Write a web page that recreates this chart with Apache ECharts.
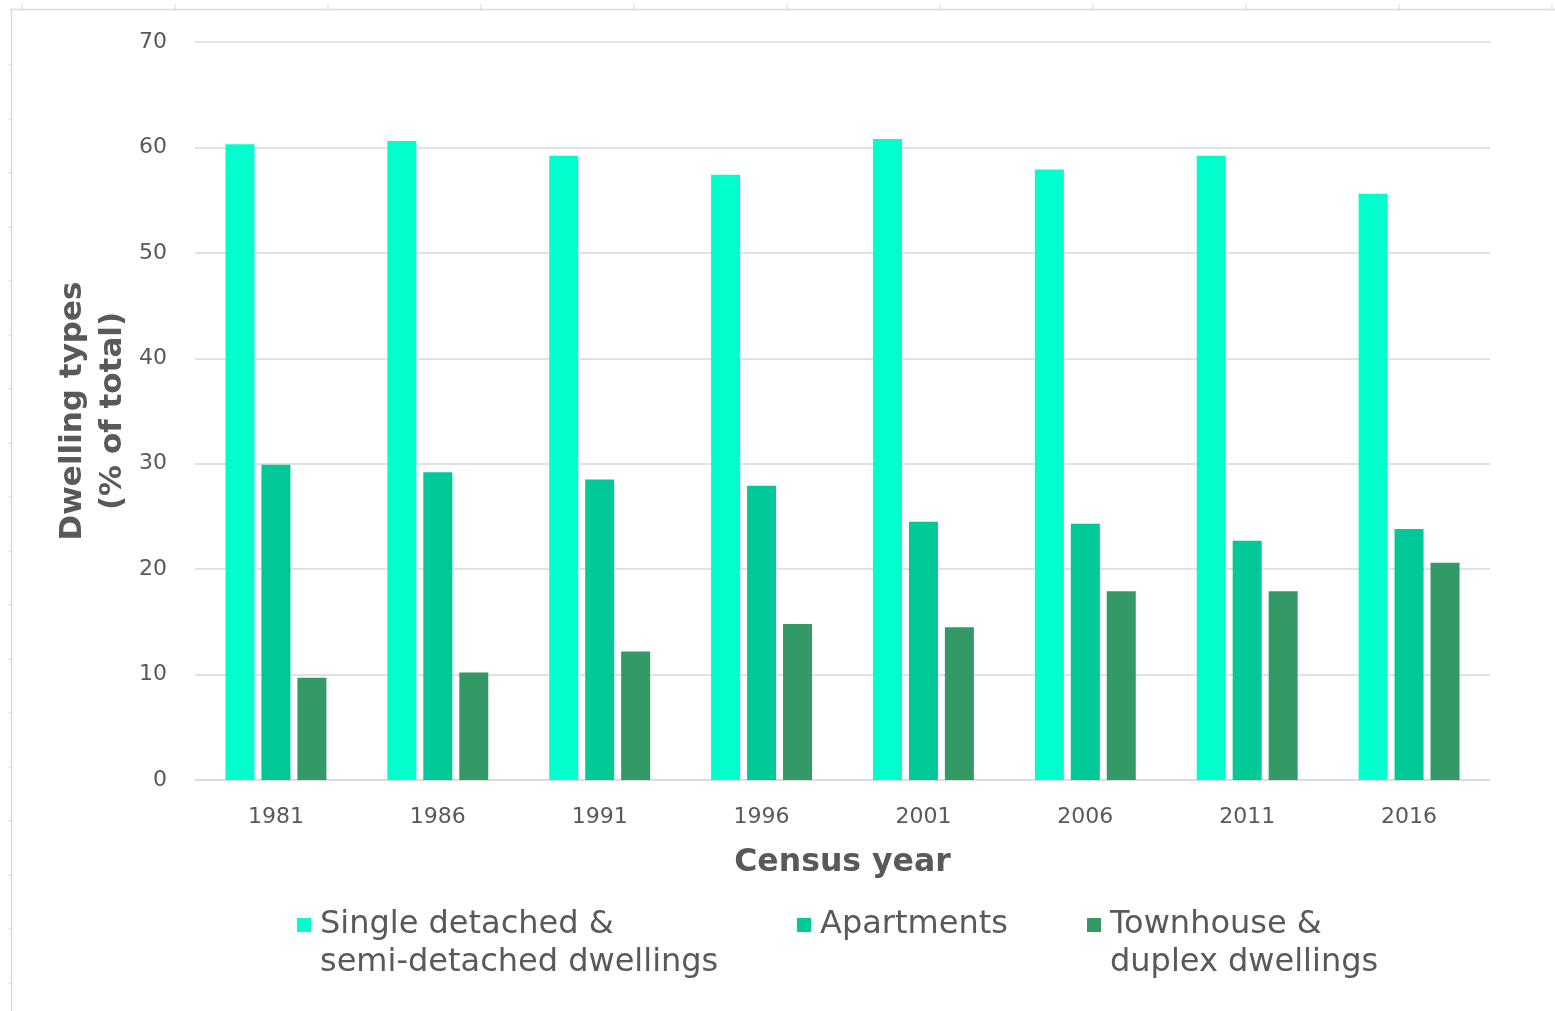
<!DOCTYPE html>
<html>
<head>
<meta charset="utf-8">
<script src="https://cdn.jsdelivr.net/npm/echarts@6/dist/echarts.min.js"></script>
<style>
html,body{margin:0;padding:0;background:#fff;}
#chart{width:1555px;height:1011px;}
</style>
</head>
<body>
<div id="chart"></div>
<script>
var years = ['1981','1986','1991','1996','2001','2006','2011','2016'];
var seriesNames = ['Single detached &\nsemi-detached dwellings','Apartments','Townhouse &\nduplex dwellings'];
var singleDetached = [60.3, 60.6, 59.2, 57.4, 60.8, 57.9, 59.2, 55.6];
var apartments = [29.9, 29.2, 28.5, 27.9, 24.5, 24.3, 22.7, 23.8];
var townhouse = [9.7, 10.2, 12.2, 14.8, 14.5, 17.9, 17.9, 20.6];
var yTicks = [0, 10, 20, 30, 40, 50, 60, 70];
var yTitle = 'Dwelling types\n(% of total)';
var colors = ['#00FFCC', '#00C896', '#339966'];

var chart = echarts.init(document.getElementById('chart'));
var font = 'DejaVu Sans';
var grey = '#595959';

function legendFor(i, left, top) {
  return {
    data: [seriesNames[i]],
    left: left, top: top,
    padding: 0,
    orient: 'horizontal',
    itemWidth: 14, itemHeight: 14,
    icon: 'rect',
    selectedMode: false,
    formatter: function (n) { return n.indexOf('\n') >= 0 ? '\n' + n : n; },
    textStyle: { fontFamily: font, fontSize: 32, color: grey, lineHeight: 38, padding: [0, 0, 0, 4] }
  };
}

var frame = [];
frame.push({ type: 'line', shape: { x1: 10, y1: 9.5, x2: 1555, y2: 9.5 }, style: { stroke: '#d9d9d9', lineWidth: 1.5 } });
frame.push({ type: 'line', shape: { x1: 11.5, y1: 9, x2: 11.5, y2: 1011 }, style: { stroke: '#d9d9d9', lineWidth: 1.5 } });
var topTicks = [22, 175, 328, 481, 634, 787, 940, 1093, 1246, 1399, 1552];
topTicks.forEach(function (x) {
  frame.push({ type: 'line', shape: { x1: x, y1: 4, x2: x, y2: 9 }, style: { stroke: '#d9d9d9', lineWidth: 1 } });
});
for (var yy = 65; yy < 1011; yy += 54) {
  frame.push({ type: 'line', shape: { x1: 8, y1: yy, x2: 11, y2: yy }, style: { stroke: '#d9d9d9', lineWidth: 1 } });
}
frame.push({
  type: 'text', x: 93, y: 411, rotation: Math.PI / 2,
  style: { text: yTitle, fontFamily: font, fontSize: 31, fontWeight: 'bold', fill: grey,
           lineHeight: 40, align: 'center', verticalAlign: 'middle' }
});

chart.setOption({
  animation: false,
  color: colors,
  graphic: frame,
  grid: { left: 195, right: 65, top: 42, bottom: 231, containLabel: false },
  legend: [
    legendFor(0, 297, 868),
    legendFor(1, 797, 906),
    legendFor(2, 1087, 868)
  ],
  xAxis: {
    type: 'category',
    data: years,
    name: 'Census year',
    nameLocation: 'middle',
    nameGap: 67,
    nameTextStyle: { fontFamily: font, fontSize: 31.5, fontWeight: 'bold', color: grey },
    axisLine: { show: true, lineStyle: { color: '#d9d9d9', width: 1.5 } },
    axisTick: { show: false },
    axisLabel: { fontFamily: font, fontSize: 22, color: grey, margin: 26 }
  },
  yAxis: {
    type: 'value',
    min: 0, max: 70, interval: 10,
    axisLine: { show: false },
    axisTick: { show: false },
    splitLine: { lineStyle: { color: '#d9d9d9', width: 1.5 } },
    axisLabel: {
      fontFamily: font, fontSize: 22, color: grey, margin: 28,
      formatter: function (v) { return yTicks.indexOf(v) >= 0 ? String(v) : ''; }
    }
  },
  series: [
    { name: seriesNames[0], type: 'bar', data: singleDetached, barWidth: 29, barGap: '24%' },
    { name: seriesNames[1], type: 'bar', data: apartments, barWidth: 29, barGap: '24%' },
    { name: seriesNames[2], type: 'bar', data: townhouse, barWidth: 29, barGap: '24%' }
  ]
});
</script>
</body>
</html>
